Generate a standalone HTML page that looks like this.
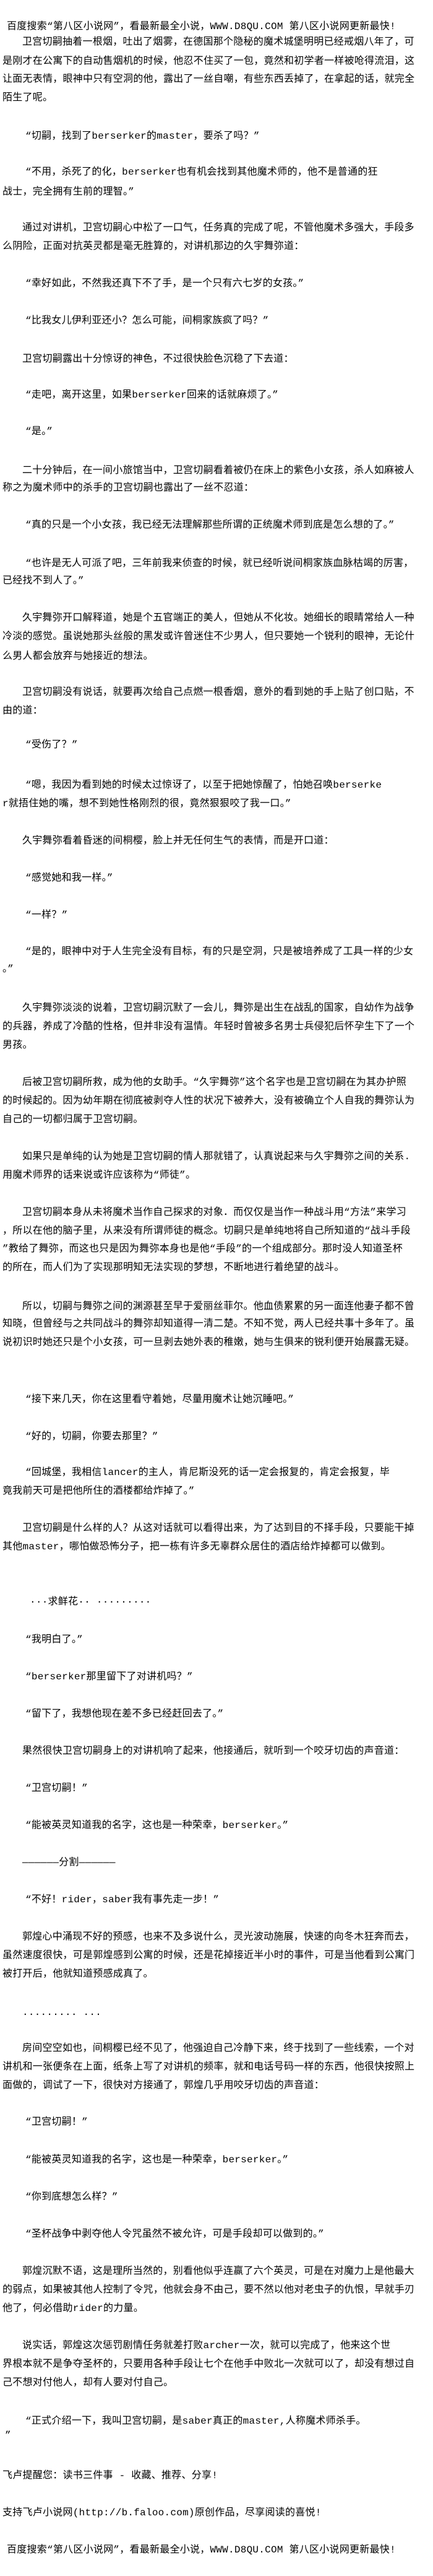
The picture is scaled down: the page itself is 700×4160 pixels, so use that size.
<!DOCTYPE html>
<html><head><meta charset="utf-8"><style>
html,body{margin:0;padding:0;background:#fff;}
body{width:700px;height:4160px;position:relative;overflow:hidden;}
div{position:absolute;white-space:nowrap;font-family:"Liberation Mono","Noto Sans CJK SC","WenQuanYi Zen Hei",monospace;font-size:16px;line-height:18px;color:#000;letter-spacing:0.25px;}
</style></head><body>
<div style="left:11px;top:34px">百度搜索“第八区小说网”，看最新最全小说，WWW.D8QU.COM  第八区小说网更新最快!</div>
<div style="left:36px;top:59px">卫宫切嗣抽着一根烟，吐出了烟雾，在德国那个隐秘的魔术城堡明明已经戒烟八年了，可</div>
<div style="left:4px;top:90px">是刚才在公寓下的自动售烟机的时候，他忍不住买了一包，竟然和初学者一样被呛得流泪，这</div>
<div style="left:4px;top:119px">让面无表情，眼神中只有空洞的他，露出了一丝自嘲，有些东西丢掉了，在拿起的话，就完全</div>
<div style="left:4px;top:149px">陌生了呢。</div>
<div style="left:41px;top:211px">“切嗣，找到了berserker的master，要杀了吗？”</div>
<div style="left:41px;top:269px">“不用，杀死了的化，berserker也有机会找到其他魔术师的，他不是普通的狂</div>
<div style="left:4px;top:301px">战士，完全拥有生前的理智。”</div>
<div style="left:36px;top:359px">通过对讲机，卫宫切嗣心中松了一口气，任务真的完成了呢，不管他魔术多强大，手段多</div>
<div style="left:4px;top:389px">么阴险，正面对抗英灵都是毫无胜算的，对讲机那边的久宇舞弥道：</div>
<div style="left:41px;top:449px">“幸好如此，不然我还真下不了手，是一个只有六七岁的女孩。”</div>
<div style="left:41px;top:509px">“比我女儿伊利亚还小？怎么可能，间桐家族疯了吗？”</div>
<div style="left:36px;top:571px">卫宫切嗣露出十分惊讶的神色，不过很快脸色沉稳了下去道：</div>
<div style="left:41px;top:629px">“走吧，离开这里，如果berserker回来的话就麻烦了。”</div>
<div style="left:41px;top:688px">“是。”</div>
<div style="left:36px;top:751px">二十分钟后，在一间小旅馆当中，卫宫切嗣看着被仍在床上的紫色小女孩，杀人如麻被人</div>
<div style="left:4px;top:779px">称之为魔术师中的杀手的卫宫切嗣也露出了一丝不忍道：</div>
<div style="left:41px;top:839px">“真的只是一个小女孩，我已经无法理解那些所谓的正统魔术师到底是怎么想的了。”</div>
<div style="left:41px;top:901px">“也许是无人可派了吧，三年前我来侦查的时候，就已经听说间桐家族血脉枯竭的厉害，</div>
<div style="left:4px;top:929px">已经找不到人了。”</div>
<div style="left:36px;top:989px">久宇舞弥开口解释道，她是个五官端正的美人，但她从不化妆。她细长的眼睛常给人一种</div>
<div style="left:4px;top:1019px">冷淡的感觉。虽说她那头丝般的黑发或许曾迷住不少男人，但只要她一个锐利的眼神，无论什</div>
<div style="left:4px;top:1051px">么男人都会放弃与她接近的想法。</div>
<div style="left:36px;top:1109px">卫宫切嗣没有说话，就要再次给自己点燃一根香烟，意外的看到她的手上贴了创口贴，不</div>
<div style="left:4px;top:1139px">由的道：</div>
<div style="left:41px;top:1194px">“受伤了？”</div>
<div style="left:41px;top:1259px">“嗯，我因为看到她的时候太过惊讶了，以至于把她惊醒了，怕她召唤berserke</div>
<div style="left:4px;top:1289px">r就捂住她的嘴，想不到她性格刚烈的很，竟然狠狠咬了我一口。”</div>
<div style="left:36px;top:1349px">久宇舞弥看着昏迷的间桐樱，脸上并无任何生气的表情，而是开口道：</div>
<div style="left:41px;top:1409px">“感觉她和我一样。”</div>
<div style="left:41px;top:1469px">“一样？”</div>
<div style="left:41px;top:1528px">“是的，眼神中对于人生完全没有目标，有的只是空洞，只是被培养成了工具一样的少女</div>
<div style="left:4px;top:1556px">。”</div>
<div style="left:36px;top:1619px">久宇舞弥淡淡的说着，卫宫切嗣沉默了一会儿，舞弥是出生在战乱的国家，自幼作为战争</div>
<div style="left:4px;top:1649px">的兵器，养成了冷酷的性格，但并非没有温情。年轻时曾被多名男士兵侵犯后怀孕生下了一个</div>
<div style="left:4px;top:1679px">男孩。</div>
<div style="left:36px;top:1739px">后被卫宫切嗣所救，成为他的女助手。“久宇舞弥”这个名字也是卫宫切嗣在为其办护照</div>
<div style="left:4px;top:1769px">的时候起的。因为幼年期在彻底被剥夺人性的状况下被养大，没有被确立个人自我的舞弥认为</div>
<div style="left:4px;top:1799px">自己的一切都归属于卫宫切嗣。</div>
<div style="left:36px;top:1859px">如果只是单纯的认为她是卫宫切嗣的情人那就错了，认真说起来与久宇舞弥之间的关系.</div>
<div style="left:4px;top:1889px">用魔术师界的话来说或许应该称为“师徒”。</div>
<div style="left:36px;top:1949px">卫宫切嗣本身从未将魔术当作自己探求的对象．而仅仅是当作一种战斗用“方法”来学习</div>
<div style="left:4px;top:1979px">，所以在他的脑子里，从来没有所谓师徒的概念。切嗣只是单纯地将自己所知道的“战斗手段</div>
<div style="left:4px;top:2008px">”教给了舞弥，而这也只是因为舞弥本身也是他“手段”的一个组成部分。那时没人知道圣杯</div>
<div style="left:4px;top:2038px">的所在，而人们为了实现那明知无法实现的梦想，不断地进行着绝望的战斗。</div>
<div style="left:36px;top:2101px">所以，切嗣与舞弥之间的渊源甚至早于爱丽丝菲尔。他血债累累的另一面连他妻子都不曾</div>
<div style="left:4px;top:2129px">知晓，但曾经与之共同战斗的舞弥却知道得一清二楚。不知不觉，两人已经共事十多年了。虽</div>
<div style="left:4px;top:2159px">说初识时她还只是个小女孩，可一旦剥去她外表的稚嫩，她与生俱来的锐利便开始展露无疑。</div>
<div style="left:41px;top:2251px">“接下来几天，你在这里看守着她，尽量用魔术让她沉睡吧。”</div>
<div style="left:41px;top:2311px">“好的，切嗣，你要去那里？”</div>
<div style="left:41px;top:2369px">“回城堡，我相信lancer的主人，肯尼斯没死的话一定会报复的，肯定会报复，毕</div>
<div style="left:4px;top:2399px">竟我前天可是把他所住的酒楼都给炸掉了。”</div>
<div style="left:36px;top:2459px">卫宫切嗣是什么样的人？从这对话就可以看得出来，为了达到目的不择手段，只要能干掉</div>
<div style="left:4px;top:2489px">其他master，哪怕做恐怖分子，把一栋有许多无辜群众居住的酒店给炸掉都可以做到。</div>
<div style="left:48px;top:2578px">···求鲜花··  ·········</div>
<div style="left:41px;top:2639px">“我明白了。”</div>
<div style="left:41px;top:2699px">“berserker那里留下了对讲机吗？”</div>
<div style="left:41px;top:2759px">“留下了，我想他现在差不多已经赶回去了。”</div>
<div style="left:36px;top:2819px">果然很快卫宫切嗣身上的对讲机响了起来，他接通后，就听到一个咬牙切齿的声音道：</div>
<div style="left:41px;top:2879px">“卫宫切嗣！”</div>
<div style="left:41px;top:2939px">“能被英灵知道我的名字，这也是一种荣幸，berserker。”</div>
<div style="left:36px;top:2999px">——————分割——————</div>
<div style="left:41px;top:3059px">“不好！rider，saber我有事先走一步！”</div>
<div style="left:36px;top:3119px">郭煌心中涌现不好的预感，也来不及多说什么，灵光波动施展，快速的向冬木狂奔而去，</div>
<div style="left:4px;top:3149px">虽然速度很快，可是郭煌感到公寓的时候，还是花掉接近半小时的事件，可是当他看到公寓门</div>
<div style="left:4px;top:3179px">被打开后，他就知道预感成真了。</div>
<div style="left:36px;top:3241px">.........  ...</div>
<div style="left:36px;top:3299px">房间空空如也，间桐樱已经不见了，他强迫自己冷静下来，终于找到了一些线索，一个对</div>
<div style="left:4px;top:3329px">讲机和一张便条在上面，纸条上写了对讲机的频率，就和电话号码一样的东西，他很快按照上</div>
<div style="left:4px;top:3359px">面做的，调试了一下，很快对方接通了，郭煌几乎用咬牙切齿的声音道：</div>
<div style="left:41px;top:3418px">“卫宫切嗣！”</div>
<div style="left:41px;top:3479px">“能被英灵知道我的名字，这也是一种荣幸，berserker。”</div>
<div style="left:41px;top:3539px">“你到底想怎么样？”</div>
<div style="left:41px;top:3599px">“圣杯战争中剥夺他人令咒虽然不被允许，可是手段却可以做到的。”</div>
<div style="left:36px;top:3659px">郭煌沉默不语，这是理所当然的，别看他似乎连赢了六个英灵，可是在对魔力上是他最大</div>
<div style="left:4px;top:3689px">的弱点，如果被其他人控制了令咒，他就会身不由己，要不然以他对老虫子的仇恨，早就手刃</div>
<div style="left:4px;top:3719px">他了，何必借助rider的力量。</div>
<div style="left:36px;top:3779px">说实话，郭煌这次惩罚剧情任务就差打败archer一次，就可以完成了，他来这个世</div>
<div style="left:4px;top:3809px">界根本就不是争夺圣杯的，只要用各种手段让七个在他手中败北一次就可以了，却没有想过自</div>
<div style="left:4px;top:3839px">己不想对付他人，却有人要对付自己。</div>
<div style="left:41px;top:3901px">“正式介绍一下，我叫卫宫切嗣，是saber真正的master,人称魔术师杀手。</div>
<div style="left:8px;top:3924px">”</div>
<div style="left:4px;top:3989px">飞卢提醒您：读书三件事 - 收藏、推荐、分享!</div>
<div style="left:4px;top:4049px">支持飞卢小说网(http://b.faloo.com)原创作品，尽享阅读的喜悦!</div>
<div style="left:11px;top:4109px">百度搜索“第八区小说网”，看最新最全小说，WWW.D8QU.COM  第八区小说网更新最快!</div>
</body></html>
